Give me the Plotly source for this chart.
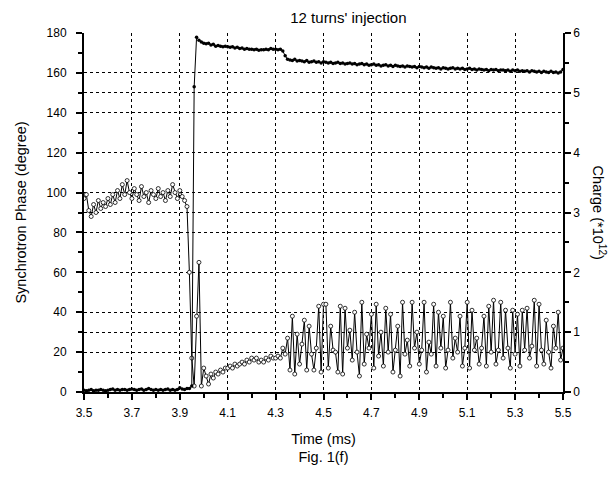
import numpy as np
import plotly.graph_objs as go

# sampling grid, 0.01 ms
time_ms = np.round(np.arange(3.50, 5.5001, 0.01), 2)

# synchrotron phase (degree), left axis, open circles
phase_deg = [
    97, 99, 91, 88, 94, 90, 96, 92, 95, 93,
    97, 94, 99, 95, 101, 97, 104, 99, 106, 100,
    97, 102, 99, 96, 103, 98, 100, 95, 101, 99,
    97, 102, 98, 100, 96, 101, 98, 104, 100, 97,
    101, 98, 96, 93, 60, 17, 3, 38, 65, 3,
    12, 8, 4, 9, 7, 10, 9, 11, 10, 12,
    12, 13, 12, 14, 13, 14, 15, 14, 16, 15,
    17, 16, 17, 15, 16, 15, 17, 16, 18, 17,
    17, 18, 17, 22, 19, 27, 11, 38, 9, 29,
    14, 24, 36, 11, 33, 19, 11, 22, 43, 10,
    44, 44, 12, 33, 21, 20, 10, 43, 9, 42,
    22, 31, 16, 40, 20, 8, 45, 14, 29, 22,
    39, 12, 44, 18, 30, 13, 42, 20, 39, 10,
    21, 33, 8, 45, 19, 26, 13, 45, 22, 30,
    14, 21, 45, 10, 25, 19, 44, 13, 40, 22,
    38, 12, 21, 45, 17, 27, 20, 38, 13, 22,
    45, 12, 41, 21, 27, 14, 22, 38, 13, 43,
    20, 46, 14, 21, 45, 17, 41, 22, 12, 41,
    19, 39, 13, 41, 21, 42, 17, 23, 46, 13,
    44, 21, 14, 36, 20, 12, 33, 22, 40, 16,
    22,
]

# stored charge (*10^12), right axis, filled dots
charge_e12 = [
    0.03, 0.02, 0.03, 0.04, 0.02, 0.03, 0.03, 0.04, 0.03, 0.02,
    0.03, 0.04, 0.05, 0.03, 0.04, 0.03, 0.04, 0.04, 0.03, 0.04,
    0.05, 0.04, 0.03, 0.04, 0.05, 0.03, 0.04, 0.06, 0.04, 0.03,
    0.04, 0.03, 0.04, 0.03, 0.04, 0.05, 0.03, 0.04, 0.03, 0.04,
    0.07, 0.05, 0.04, 0.06, 0.06, 0.10, 5.10, 5.93, 5.88, 5.85,
    5.83, 5.82, 5.83, 5.80, 5.81, 5.78, 5.79, 5.78, 5.77, 5.78,
    5.77, 5.76, 5.77, 5.75, 5.76, 5.74, 5.75, 5.73, 5.74, 5.73,
    5.73, 5.72, 5.73, 5.71, 5.72, 5.72, 5.73, 5.72, 5.74, 5.73,
    5.73, 5.72, 5.73, 5.70, 5.62, 5.56, 5.55, 5.54, 5.56, 5.53,
    5.54, 5.53, 5.52, 5.54, 5.51, 5.52, 5.53, 5.51, 5.52, 5.50,
    5.52, 5.51, 5.50, 5.51, 5.49, 5.50, 5.51, 5.49, 5.50, 5.48,
    5.49, 5.50, 5.48, 5.49, 5.47, 5.48, 5.49, 5.47, 5.48, 5.46,
    5.47, 5.48, 5.46, 5.47, 5.45, 5.46, 5.47, 5.45, 5.46, 5.44,
    5.46, 5.45, 5.44, 5.45, 5.43, 5.45, 5.44, 5.43, 5.44, 5.42,
    5.44, 5.43, 5.42, 5.43, 5.41, 5.43, 5.42, 5.41, 5.42, 5.40,
    5.42, 5.41, 5.40, 5.41, 5.42, 5.40, 5.41, 5.40, 5.41, 5.39,
    5.40, 5.41, 5.39, 5.40, 5.38, 5.40, 5.39, 5.38, 5.39, 5.37,
    5.39, 5.38, 5.39, 5.37, 5.38, 5.38, 5.37, 5.38, 5.36, 5.38,
    5.37, 5.38, 5.36, 5.37, 5.36, 5.37, 5.35, 5.37, 5.36, 5.35,
    5.36, 5.34, 5.36, 5.35, 5.34, 5.36, 5.34, 5.35, 5.33, 5.35,
    5.39,
]

assert len(phase_deg) == len(time_ms) == len(charge_e12)

FONT = "Liberation Sans, Arial, sans-serif"
GRID = dict(showgrid=True, gridcolor="black", gridwidth=1, griddash="dot")

fig = go.Figure()

fig.add_trace(
    go.Scatter(
        x=time_ms,
        y=charge_e12,
        yaxis="y2",
        mode="lines+markers",
        line=dict(color="black", width=1),
        marker=dict(symbol="circle", size=3.5, color="black"),
        showlegend=False,
    )
)

fig.add_trace(
    go.Scatter(
        x=time_ms,
        y=phase_deg,
        mode="lines+markers",
        line=dict(color="black", width=1),
        marker=dict(symbol="circle", size=4, color="white",
                    line=dict(color="black", width=0.8)),
        showlegend=False,
    )
)

# page body adds an 8px offset, so the figure is drawn 8px smaller
fig.update_layout(
    width=608,
    height=469,
    margin=dict(l=73, r=53, t=25, b=85),
    paper_bgcolor="white",
    plot_bgcolor="white",
    font=dict(family=FONT, size=12, color="black"),
    title=dict(text="12 turns' injection", x=0.552, xref="paper", xanchor="center",
               y=0.98, yanchor="middle", font=dict(size=15)),
    xaxis=dict(
        range=[3.5, 5.5], tick0=3.5, dtick=0.2, tickformat=".1f",
        ticks="outside", ticklen=6, tickwidth=1.5, tickcolor="black",
        minor=dict(ticks="outside", dtick=0.1, ticklen=4, tickcolor="black"),
        showline=True, linewidth=2, linecolor="black", zeroline=False,
        ticklabelstandoff=3,
        title=dict(text="Time (ms)<br>Fig. 1(f)", standoff=14, font=dict(size=14.5)),
        **GRID,
    ),
    xaxis2=dict(
        range=[3.5, 5.5], overlaying="x", side="top", anchor="y",
        tick0=3.5, dtick=0.1, ticks="inside", ticklen=4, tickcolor="black",
        showticklabels=False, showline=True, linewidth=1.5, linecolor="black",
        showgrid=False, zeroline=False,
    ),
    yaxis=dict(
        range=[0, 180], dtick=20,
        ticks="outside", ticklen=6, tickwidth=1.5, tickcolor="black",
        minor=dict(ticks="outside", dtick=10, ticklen=4, tickcolor="black"),
        showline=True, linewidth=2, linecolor="black", zeroline=False,
        ticklabelstandoff=7,
        title=dict(text="Synchrotron Phase (degree)", standoff=16, font=dict(size=14.5)),
        **GRID,
    ),
    yaxis2=dict(
        range=[0, 6], dtick=1, overlaying="y", side="right",
        ticks="outside", ticklen=6, tickwidth=1.5, tickcolor="black",
        minor=dict(ticks="outside", dtick=0.5, ticklen=4, tickcolor="black"),
        showline=True, linewidth=1.5, linecolor="black", zeroline=False,
        **GRID,
    ),
    annotations=[
        dict(text="Charge (*10<sup>12</sup>)", textangle=90, xref="paper", yref="paper",
             x=1.077, y=0.5, xanchor="center", yanchor="middle", showarrow=False,
             font=dict(size=14.5)),
    ],
)

fig.write_html("out.html")
